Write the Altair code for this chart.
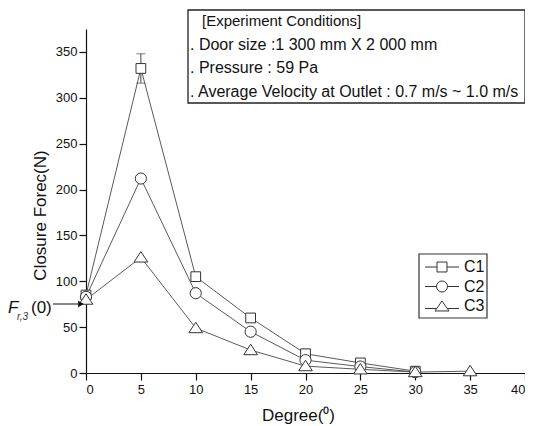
import altair as alt
import pandas as pd

# ---- data ----
series = ["C1", "C2", "C3"]
c1_degree = [0, 5, 10, 15, 20, 25, 30]
c1_force = [85, 332, 105, 60, 21, 11, 2]
c2_degree = [0, 5, 10, 15, 20, 25, 30]
c2_force = [83, 212, 87, 45, 14, 7, 1]
c3_degree = [0, 5, 10, 15, 20, 25, 30, 35]
c3_force = [80, 126, 49, 25, 7.5, 4, 1, 2]
err_degree = [5]
err_low = [316]
err_high = [348]
x_tick_values = [0, 2.5, 5, 7.5, 10, 12.5, 15, 17.5, 20, 22.5, 25, 27.5, 30, 32.5, 35, 37.5, 40]
y_tick_values = [0, 25, 50, 75, 100, 125, 150, 175, 200, 225, 250, 275, 300, 325, 350]
note_lines = [
    "[Experiment Conditions]",
    ". Door size :1 300 mm X 2 000 mm",
    ". Pressure : 59 Pa",
    ". Average Velocity at Outlet : 0.7 m/s ~ 1.0 m/s",
]

rows = []
for name, degs, vals in [("C1", c1_degree, c1_force), ("C2", c2_degree, c2_force), ("C3", c3_degree, c3_force)]:
    for d, v in zip(degs, vals):
        rows.append({"series": name, "name": name, "degree": d, "force": v})
df = pd.DataFrame(rows)
err_df = pd.DataFrame({"degree": err_degree, "lo": err_low, "hi": err_high})

FONT = "Liberation Sans"
W, H = 439, 344

xscale = alt.Scale(domain=[0, 40], nice=False, zero=False)
yscale = alt.Scale(domain=[0, 375], nice=False, zero=False)

x_axis = alt.Axis(
    values=x_tick_values,
    labelExpr="datum.value % 5 === 0 ? datum.label : ''",
    tickSize={"condition": {"test": "datum.value % 5 === 0", "value": 7}, "value": 4},
    title="Degree(⁰)",
    titleX=212, titleY=42, titleAlign="center", titleBaseline="middle",
    labelPadding=3, grid=False,
)
y_axis = alt.Axis(
    values=y_tick_values,
    labelExpr="datum.value % 50 === 0 ? datum.label : ''",
    tickSize={"condition": {"test": "datum.value % 50 === 0", "value": 7}, "value": 4},
    title="Closure Forec(N)",
    titleX=-46, titleY=186, titleAngle=-90, titleAlign="center", titleBaseline="middle",
    labelPadding=2, grid=False,
)

base = alt.Chart(df)

lines = base.mark_line(strokeWidth=1, color="#5a5a5a").encode(
    x=alt.X("degree:Q", scale=xscale, axis=x_axis),
    y=alt.Y("force:Q", scale=yscale, axis=y_axis),
    detail="series:N",
)

marker_paths = [
    "square",
    "M-1.15,0A1.15,1.15 0 1,0 1.15,0A1.15,1.15 0 1,0 -1.15,0Z",
    "M-1.4,0.95L0,-1.2L1.4,0.95Z",
]
points = base.mark_point(filled=True, fill="white", stroke="#333333", strokeWidth=1, size=95, opacity=1).encode(
    x=alt.X("degree:Q", scale=xscale),
    y=alt.Y("force:Q", scale=yscale),
    shape=alt.Shape("series:N", scale=alt.Scale(domain=series, range=marker_paths), legend=None),
)

# legend symbols: line segment + marker outline, drawn as custom paths
legend_paths = [
    "M-2.83,0H-0.83M-0.83,-0.83H0.83V0.83H-0.83ZM0.83,0H2.83",
    "M-2.83,0H-0.92M-0.92,0A0.92,0.92 0 1,0 0.92,0A0.92,0.92 0 1,0 -0.92,0M0.92,0H2.83",
    "M-2.83,0.42H-0.88M-1.17,0.83L0,-0.83L1.17,0.83ZM0.88,0.42H2.83",
]
legend_layer = base.transform_filter("false").mark_point(
    filled=False, color="#333333", strokeWidth=1, opacity=1
).encode(
    x=alt.X("degree:Q", scale=xscale),
    y=alt.Y("force:Q", scale=yscale),
    shape=alt.Shape(
        "name:N",
        scale=alt.Scale(domain=series, range=legend_paths),
        legend=alt.Legend(
            title=None, orient="none", legendX=348, legendY=230, padding=0,
            symbolSize=144, symbolStrokeWidth=1, symbolStrokeColor="#333333",
            symbolFillColor="transparent",
            labelFont=FONT, labelFontSize=16, labelColor="#111", labelOffset=14,
            rowPadding=3.5,
        ),
    ),
)

legend_frame = alt.Chart(pd.DataFrame({"k": [0]})).mark_rect(fill="white", stroke="#333", strokeWidth=1.2).encode(
    x=alt.value(333), x2=alt.value(401), y=alt.value(225), y2=alt.value(289)
)

err_rule = alt.Chart(err_df).mark_rule(color="#444", strokeWidth=1).encode(
    x=alt.X("degree:Q", scale=xscale), y=alt.Y("lo:Q", scale=yscale), y2="hi:Q"
)
err_cap_hi = alt.Chart(err_df).mark_tick(orient="horizontal", size=9, thickness=1, color="#444").encode(
    x=alt.X("degree:Q", scale=xscale), y=alt.Y("hi:Q", scale=yscale)
)
err_cap_lo = alt.Chart(err_df).mark_tick(orient="horizontal", size=9, thickness=1, color="#444").encode(
    x=alt.X("degree:Q", scale=xscale), y=alt.Y("lo:Q", scale=yscale)
)

box = alt.Chart(pd.DataFrame({"k": [0]})).mark_rect(fill="white", stroke="#222", strokeWidth=1.3).encode(
    x=alt.value(102), x2=alt.value(439), y=alt.value(-19), y2=alt.value(74)
)
note_layers = []
for i, (line, xpos, fs) in enumerate(zip(note_lines, [116, 104, 104, 104], [15, 16, 16, 16])):
    note_layers.append(
        alt.Chart(pd.DataFrame({"t": [line]})).mark_text(
            font=FONT, fontSize=fs, align="left", baseline="middle", color="#111"
        ).encode(text="t:N", x=alt.value(xpos), y=alt.value(-8 + i * 23.7))
    )

fr_F = alt.Chart(pd.DataFrame({"t": ["F"]})).mark_text(
    font=FONT, fontSize=17, fontStyle="italic", align="left", baseline="middle", color="#111"
).encode(text="t:N", x=alt.value(-78), y=alt.value(279))
fr_sub = alt.Chart(pd.DataFrame({"t": ["r,3"]})).mark_text(
    font=FONT, fontSize=10, fontStyle="italic", align="left", baseline="middle", color="#333"
).encode(text="t:N", x=alt.value(-69), y=alt.value(288))
fr_arg = alt.Chart(pd.DataFrame({"t": ["(0)"]})).mark_text(
    font=FONT, fontSize=17, align="left", baseline="middle", color="#111"
).encode(text="t:N", x=alt.value(-55), y=alt.value(279))
arrow_line = alt.Chart(pd.DataFrame({"k": [0]})).mark_rule(color="#111", strokeWidth=1).encode(
    x=alt.value(-33), x2=alt.value(-4), y=alt.value(275)
)
arrow_head = alt.Chart(pd.DataFrame({"k": [0]})).mark_point(
    shape="triangle-right", filled=True, color="#111", size=45, opacity=1
).encode(x=alt.value(-5), y=alt.value(275))

chart = alt.layer(
    lines, err_rule, err_cap_hi, err_cap_lo, points, legend_layer, legend_frame, box, *note_layers,
    fr_F, fr_sub, fr_arg, arrow_line, arrow_head,
).resolve_scale(shape="independent").properties(
    width=W, height=H,
    autosize=alt.AutoSizeParams(type="none"),
    padding={"left": 78, "top": 21, "right": 0, "bottom": 52},
    background="white",
).configure_view(stroke=None).configure_axis(
    domainColor="#111", domainWidth=1.2, tickColor="#111", tickWidth=1.2,
    labelFont=FONT, labelFontSize=13, labelColor="#111",
    titleFont=FONT, titleFontSize=17, titleFontWeight="normal", titleColor="#111",
)

chart.save("out.html", embed_options={"renderer": "svg", "actions": False})
